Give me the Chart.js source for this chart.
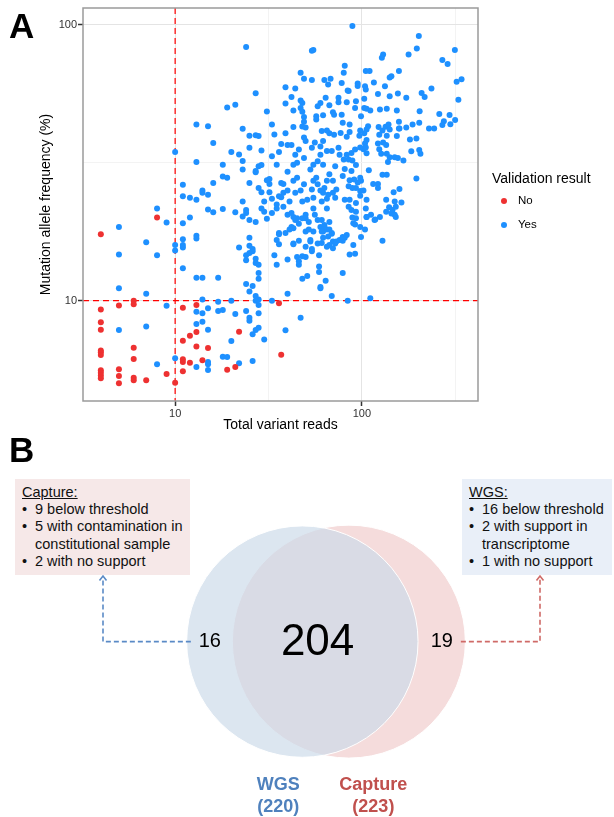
<!DOCTYPE html>
<html>
<head>
<meta charset="utf-8">
<script src="https://cdn.jsdelivr.net/npm/chart.js@4.4.1/dist/chart.umd.min.js"></script>
<style>
  body { margin: 0; background: #fff; font-family: "Liberation Sans", Arial, sans-serif; }
  #page { position: relative; width: 614px; height: 817px; overflow: hidden; background: #fff; }
  canvas { position: absolute; left: 0; }
  #scatter { top: 0; }
  #venn { top: 440px; }
  .panel { position: absolute; left: 9px; font-weight: bold; font-size: 35px; line-height: 35px; color: #000; }
  .note { position: absolute; top: 479px; height: 96px; box-sizing: border-box; padding: 5px 0 0 7px;
          font-size: 14.5px; line-height: 17.2px; color: #111; white-space: nowrap; }
  .note .b { position: relative; padding-left: 13px; }
  .note .b span { position: absolute; left: 0; }
</style>
</head>
<body>
<div id="page">
  <canvas id="scatter" width="614" height="440"></canvas>
  <canvas id="venn" width="614" height="377"></canvas>
  <div class="panel" style="top:8px">A</div>
  <div class="panel" style="top:432px">B</div>
  <div class="note" id="captureNote" style="left:15px;width:175px;background:#F6E8E8"></div>
  <div class="note" id="wgsNote" style="left:462px;width:150px;background:#E9EFF8"></div>
</div>
<script>
// ---- Panel A data: [total variant reads, mutation allele frequency %] ----
const noCalls = [
  [4,17.4],[8,20.0],[4,9.3],[5,9.6],[6,10.0],[6,9.7],[4,8.35],[4,7.85],[4,6.6],[4,6.5],[4,6.35],
  [6,6.75],[6,6.15],[4,5.6],[4,5.48],[4,5.36],[4,5.24],[5,5.64],[5,5.33],[5,5.02],[6,5.26],[6,5.15],
  [7,5.15],[9,5.42],[10,5.04],[11,9.43],[13,9.64],[13,7.7],[12,7.47],[11,7.16],[13,6.83],[15,6.74],
  [11,6.14],[11,6.0],[12,5.96],[14,6.08],[11,5.55],[19,5.62],[21,5.75],[22,7.72],[36,9.78],[37,6.37]
];
const yesCalls = [
  [8,21.6],[5,18.5],[7,16.3],[5,14.7],[8,14.6],[9,19.2],[5,11.1],[7,10.6],[9,9.59],[5,7.83],[7,8.07],[8,5.89],[10,6.18],
  [10,15.9],[10,15.2],[11,19.1],[12,20.0],[11,16.7],[11,15.9],[11,15.6],[13,17.2],[13,16.8],[11,13.1],[13,12.1],[14,12.1],[17,12.1],
  [15,21.4],[16,20.9],[18,21.5],[21,20.9],[23,20.2],[24,21.3],[24,20.8],[25,19.6],[27,19.3],[29,21.6],[30,21.0],[31,19.8],[33,20.8],[35,21.6],
  [14,10.1],[13,9.12],[15,9.38],[14,9.0],[17,9.92],[17,9.18],[18,9.25],[20,9.99],[21,8.95],[24,9.18],[25,8.67],[25,8.46],[28,9.0],[27,9.99],[28,9.64],[33,9.99],
  [13,8.23],[14,8.39],[15,7.85],[20,7.14],[26,7.56],[27,7.83],[28,7.98],[30,7.24],[18,6.27],[19,6.25],[22,5.93],[26,6.04],[13,5.75],[15,6.0],[15,5.88],[15,5.61],
  [24,14.6],[24,14.0],[25,16.9],[25,15.8],[26,15.4],[26,15.1],[25,14.9],[22,15.6],[27,14.2],[27,13.7],[28,13.5],[28,12.6],[28,12.0],[24,11.5],[26,11.3],[25,10.8],[27,10.4],[28,10.1],[34,14.6],[35,13.5],[35,16.6],[36,17.4],
  [47,8.67],[39,7.81],[40,10.6],[69,10.4],[84,10.0],[111,10.2],[79,12.6],[64,11.8],[60,11.2],[60,11.1],[48,12.0],[51,12.3],[59,13.3],[59,12.7],[40,14.1],[45,14.4],[46,13.9],[46,13.5],[50,14.4],[50,15.7],[54,15.4],[59,14.6],[86,14.7],[92,14.8],[99,17.0],[129,16.5],[118,19.7],[150,20.5],[140,21.8],[106,20.1],[92,18.9],[89,20.0],[70,16.4],[67,15.9],[72,16.1],[81,16.9],[79,16.5],[70,15.5],[43,16.1],[46,16.5],[53,16.4],[58,16.1],[61,16.2],[65,15.7],[69,17.5],[62,16.9],
  [39,17.6],[40,20.5],[42,20.8],[44,19.6],[45,19.9],[42,18.5],[43,18.3],[50,20.5],[50,19.9],[52,19.3],[50,17.8],[52,18.1],[56,20.5],[58,19.6],[61,19.6],[63,18.8],[67,19.3],[62,17.8],[65,18.1],[69,17.6],[55,21.6],[65,21.6],[85,21.9],[88,21.3],[93,21.0],[105,21.6],[38,21.9],
  [43,20.1],[48,19.9],[46,19.0],[41,18.1],[36,17.6],[36,16.0],[43,16.0],[53,16.6],[55,17.8],[60,18.5],[63,18.5],[61,17.8],[67,18.1],[66,17.1],[73,16.4],[54,15.1],[48,14.5],[76,16.6],[79,17.0],[83,17.3],[90,15.9],[98,18.5],[104,18.1],[90,19.1],[93,19.9],[106,20.1],[112,20.5],[117,19.6],[125,20.1],[135,21.0],[144,20.7],[146,21.3],[152,20.1],[152,21.9],[135,23.2],[150,22.9],
  [24,83],[27,56.5],[19,50.1],[21,51.3],[31,48.5],[33,43.5],[34,40],[13,43.5],[15,42.9],[23,42],[25,39.6],[27,39.8],[28,39.5],[16,37.3],[37,37],[10,34.6],[20,34.6],[22,33.9],[25,35.8],[29,35.0],[33,33.4],[36,34.6],[13,31.8],[18,31.1],[23,32.1],[23,29.9],[28,30.7],[29,31.0],[27,29.2],[27,29.5],[18,28.2],[19,27.9],[16,26.7],[11,26.3],[25,26.7],[31,27.3],[32,27.6],[32,26.5],[37,26.7],[28,25.6],[29,24.7],[32,24.7],[14,25.1],[14,24.6],[15,24.2],[11,23.9],[12,23.6],[13,23.2],[33,23.4],[30,22.9],[36,23.9],[35,22.3],[37,23.7],[23,22.9],[35,31.1],
  [89,99],[202,91],[197,82],[178,78],[315,81],[270,74.5],[288,72],[54,80.5],[55,81],[130,78],[128,76],[81,71],[80,67],[47,67],[49,63.7],[54,63],[63,63],[68,63.7],[66,60.7],[78,61.5],[84,57.8],[105,68],[110,68],[158,68],[141,64.4],[144,65],[116,61.8],[95,61.3],[95,60],[104,59.8],[133,59.8],[39,59.3],[44,58.7],[85,57.5],[105,58.3],[209,56.6],[217,54.7],[236,58.7],[322,62.2],[342,63.4],[329,53.5],[156,56.3],[173,54.4],[122,56.1],[141,55.1],[103,53.9],[93,52.8],[83,52.4],[75,52.4],[75,54.4],[64,54.4],[42,54.7],[39,51.8],[47,53.2],[48,52.1],[60,52],[67,51.1],[58,50.7],[43,48.9],[47,49.9],[48,48.4],[92,49.9],[103,49.9],[106,49.6],[111,48.9],[125,49.3],[136,49.6],[154,48.9],[204,48.6],[260,47.5],[295,47.1],[316,45.2],[275,44.7],[270,43.3],[298,43.6],[244,42.1],[229,42.1],[203,44.1],[187,43.5],[173,42.4],[158,44.5],[158,42.1],
  [57,46.6],[57,45.4],[62,47],[70,48.2],[71,47.2],[78,47.2],[79,44.1],[86,43.5],[99,46.6],[49,46.3],[49,44.5],[48,42.8],[43,42.6],[39,40.4],[50,42.4],[108,42.9],[106,41.7],[98,41.4],[103,40.4],[123,42.6],[129,41.4],[134,42.7],[139,43.5],[141,41.7],[136,39.6],[124,39.9],[77,40.5],[71,39.9],[67,40.4],[65,41.4],[61,41.2],[86,40.9],[83,39.3],[97,39.6],[106,38.2],[104,37.1],[102,35.4],[98,35.9],[105,35.9],[106,34.2],[154,39.5],[159,42.1],[181,38.4],[196,38.7],[184,34.8],[203,35.2],[206,34.1],[167,32.2],[122,37.1],[130,37.4],[135,36.7],[124,35.4],[127,34.1],[136,34.1],[141,33.1],[150,33.1],[156,32.9],[138,31.8],[196,27.7],[159,25.4],[148,24.7],[163,22.7],[129,28.6],[136,28.6],[122,26.5],[122,25.6],[115,26.5],[109,29.7],[93,31],[89,32.2],[85,32.5],[80,32.5],[81,30],[98,27.9],[99,27.2],[95,26.8],[93,25.6],[98,25],[102,25.1],[91,27.5],[86,27.3],[85,26],[89,25.6],
  [40,36.7],[42,36.7],[44,33.8],[46,35.3],[49,32.9],[45,31.6],[43,31.1],[40,29.3],[45,27.9],[43,27.2],[38,26.5],[40,25.1],[44,24.6],[47,25.1],[49,26.4],[53,29.9],[55,31.1],[58,32.0],[62,31.1],[57,27.9],[55,27.2],[58,26.4],[54,25.3],[60,25.1],[65,27.2],[67,28.7],[72,30.7],[70,27.2],[63,25.6],[62,24.6],[66,24.2],[70,24.6],[73,25.3],[72,23.6],[65,23.4],[61,22.9],[55,23.6],[51,23.2],[48,22.9],[41,22.9],[38,24.6],[98,24.0],[81,23.2],[86,23.2],[93,22.6],[106,23.2],[54,35.8],[50,37.9],[49,39.0],[56,37.4],[60,36.2],[62,37.9],[75,35.8],[69,34.9],[65,34.9],[60,33.8],[76,33.8],[83,33.8],[88,34.3],[92,35.3],[88,29.5],[79,28.3]
];
const readCutoff = 10;
const vafCutoff = 10;
const majorTicks = [10, 100];
const xTickValues = [10, 31.62, 100, 316.2];
const yTickValues = [10, 31.62, 100];

// ---- Panel B data ----
const vennSets = ['WGS', 'Capture'];
const vennTotals = [220, 223];
const vennOnly = [16, 19];
const vennShared = 204;
const captureNotes = ['9 below threshold', '5 with contamination in\nconstitutional sample', '2 with no support'];
const wgsNotes = ['16 below threshold', '2 with support in\ntranscriptome', '1 with no support'];

const FONT = '"Liberation Sans", Arial, sans-serif';
Chart.defaults.font.family = FONT;
const RED = '#EE3131';
const BLUE = '#1E90FF';

const toPoints = arr => arr.map(p => ({ x: p[0], y: p[1] }));
const isMajor = ctx => ctx.tick && majorTicks.includes(ctx.tick.value);
const gridColor = ctx => isMajor(ctx) ? '#E4E4E4' : '#F3F3F3';
const tickColor = ctx => isMajor(ctx) ? '#333' : 'rgba(0,0,0,0)';

const scatterExtras = {
  id: 'scatterExtras',
  beforeDatasetsDraw(chart) {
    const { ctx, chartArea: a, scales: { x, y } } = chart;
    const xc = x.getPixelForValue(readCutoff);
    const yc = y.getPixelForValue(vafCutoff);
    ctx.save();
    ctx.strokeStyle = '#FF0000';
    ctx.lineWidth = 1.2;
    ctx.setLineDash([6, 4]);
    ctx.beginPath();
    ctx.moveTo(xc, a.top); ctx.lineTo(xc, a.bottom);
    ctx.moveTo(a.left, yc); ctx.lineTo(a.right, yc);
    ctx.stroke();
    ctx.restore();
  },
  afterDraw(chart) {
    const { ctx, chartArea: a } = chart;
    ctx.save();
    ctx.strokeStyle = '#9A9A9A';
    ctx.lineWidth = 1.5;
    ctx.strokeRect(a.left, a.top, a.right - a.left, a.bottom - a.top);
    // legend
    ctx.fillStyle = '#000';
    ctx.textBaseline = 'middle';
    ctx.font = '14px ' + FONT;
    ctx.fillText('Validation result', 492, 179);
    ctx.font = '11.5px ' + FONT;
    chart.data.datasets.forEach((ds, i) => {
      const yy = 201 + i * 24;
      ctx.fillStyle = ds.backgroundColor;
      ctx.beginPath(); ctx.arc(504, yy, 3, 0, Math.PI * 2); ctx.fill();
      ctx.fillStyle = '#000';
      ctx.fillText(ds.label, 518, yy);
    });
    ctx.restore();
  }
};

new Chart(document.getElementById('scatter'), {
  type: 'scatter',
  data: {
    datasets: [
      { label: 'No', data: toPoints(noCalls), backgroundColor: RED, pointRadius: 3, pointBorderWidth: 0 },
      { label: 'Yes', data: toPoints(yesCalls), backgroundColor: BLUE, pointRadius: 3, pointBorderWidth: 0 }
    ]
  },
  options: {
    responsive: false,
    animation: false,
    events: [],
    layout: { autoPadding: false, padding: { left: 0, top: 8, right: 136, bottom: 0 } },
    plugins: { legend: { display: false }, tooltip: { enabled: false } },
    scales: {
      x: {
        type: 'logarithmic', min: 3.21, max: 419, bounds: 'data',
        afterBuildTicks: axis => { axis.ticks = xTickValues.map(v => ({ value: v })); },
        afterFit: axis => { axis.height = 39; },
        ticks: { autoSkip: false, maxRotation: 0, padding: 1, color: '#333', font: { size: 11 },
                 callback: v => majorTicks.includes(v) ? String(v) : '' },
        grid: { color: gridColor, lineWidth: 1, tickColor: tickColor, tickLength: 5, tickWidth: 1.5 },
        border: { display: false },
        title: { display: true, text: 'Total variant reads', color: '#000', font: { size: 14 }, padding: { top: 0, bottom: 6.6 } }
      },
      y: {
        type: 'logarithmic', min: 4.33, max: 115, bounds: 'data',
        afterBuildTicks: axis => { axis.ticks = yTickValues.map(v => ({ value: v })); },
        afterFit: axis => { axis.width = 83; },
        ticks: { autoSkip: false, padding: 1, color: '#333', font: { size: 11 },
                 callback: v => majorTicks.includes(v) ? String(v) : '' },
        grid: { color: gridColor, lineWidth: 1, tickColor: tickColor, tickLength: 5, tickWidth: 1.5 },
        border: { display: false },
        title: { display: true, text: 'Mutation allele frequency (%)', color: '#000', font: { size: 14 }, padding: { top: 38, bottom: 0 } }
      }
    }
  },
  plugins: [scatterExtras]
});

// ---- Panel B: notes ----
function fillNote(id, title, notes) {
  let html = '<div><u>' + title + ':</u></div>';
  notes.forEach(n => { html += '<div class="b"><span>\u2022</span>' + n.replace('\n', '<br>') + '</div>'; });
  document.getElementById(id).innerHTML = html;
}
fillNote('captureNote', 'Capture', captureNotes);
fillNote('wgsNote', 'WGS', wgsNotes);

function dashedArrow(ctx, x1, y1, xc, yTip, color) {
  ctx.save();
  ctx.strokeStyle = color;
  ctx.lineWidth = 1.6;
  ctx.setLineDash([5, 3]);
  ctx.beginPath();
  ctx.moveTo(x1, y1); ctx.lineTo(xc, y1); ctx.lineTo(xc, yTip + 2);
  ctx.stroke();
  ctx.setLineDash([]);
  ctx.beginPath();
  ctx.moveTo(xc - 3.5, yTip + 4.5); ctx.lineTo(xc, yTip); ctx.lineTo(xc + 3.5, yTip + 4.5);
  ctx.stroke();
  ctx.restore();
}

const vennDecor = {
  id: 'vennDecor',
  afterDatasetsDraw(chart) {
    const ctx = chart.ctx;
    const a = chart.getDatasetMeta(0).data[0];
    const b = chart.getDatasetMeta(1).data[0];
    const cy = a.y;
    const xl = a.x - 92.5, xr = b.x + 93;
    dashedArrow(ctx, xl - 19, cy, 103, 136, '#5A8AC6');
    dashedArrow(ctx, xr + 19, cy, 540, 136, '#CF6A67');
    ctx.save();
    ctx.fillStyle = '#000';
    ctx.textAlign = 'center';
    ctx.textBaseline = 'middle';
    ctx.font = '20px ' + FONT;
    ctx.fillText(String(vennOnly[0]), xl, cy);
    ctx.fillText(String(vennOnly[1]), xr, cy);
    ctx.font = '44px ' + FONT;
    ctx.fillText(String(vennShared), (a.x + b.x) / 2 - 8, cy + 1);
    ctx.font = 'bold 18px ' + FONT;
    const labelX = [a.x - 24, b.x + 24.5];
    vennSets.forEach((name, i) => {
      ctx.fillStyle = chart.data.datasets[i].labelColor;
      ctx.fillText(name, labelX[i], 345);
      ctx.fillText('(' + vennTotals[i] + ')', labelX[i], 367);
    });
    ctx.restore();
  }
};

const radiusFor = n => 7.8 * Math.sqrt(n);
new Chart(document.getElementById('venn'), {
  type: 'bubble',
  data: {
    datasets: [
      { label: vennSets[0], data: [{ x: -0.5, y: 0, r: radiusFor(vennTotals[0]) }],
        backgroundColor: 'rgba(203,218,233,0.67)', borderColor: '#fff', borderWidth: 1, labelColor: '#4F81BD' },
      { label: vennSets[1], data: [{ x: 0.5, y: 0, r: radiusFor(vennTotals[1]) }],
        backgroundColor: '#F5DCDC', borderColor: '#fff', borderWidth: 1, labelColor: '#C0504D' }
    ]
  },
  options: {
    responsive: false,
    animation: false,
    events: [],
    layout: { autoPadding: false, padding: 0 },
    plugins: { legend: { display: false }, tooltip: { enabled: false } },
    scales: {
      x: { type: 'linear', display: false, min: -7, max: 6.2 },
      y: { type: 'linear', display: false, min: -0.87, max: 1 }
    }
  },
  plugins: [vennDecor]
});
</script>
</body>
</html>
